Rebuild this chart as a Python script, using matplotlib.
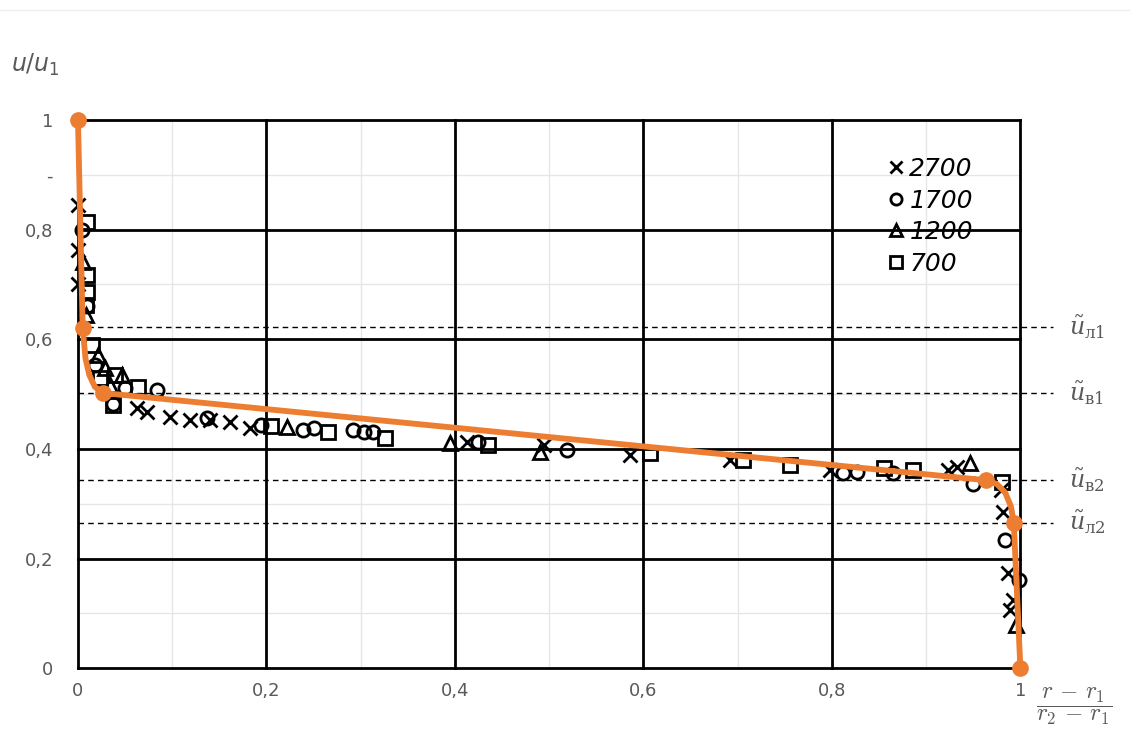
import matplotlib
matplotlib.use("Agg")
import matplotlib.pyplot as plt
from matplotlib.lines import Line2D

# measured points, one array per Reynolds number
x_2700 = [0.0, 0.0, 0.0, 0.063, 0.073, 0.098, 0.119, 0.140, 0.161, 0.183,
          0.413, 0.494, 0.586, 0.692, 0.798, 0.923, 0.933,
          0.979, 0.982, 0.987, 0.992, 0.989]
y_2700 = [0.845, 0.763, 0.700, 0.474, 0.467, 0.458, 0.453, 0.453, 0.449, 0.438,
          0.412, 0.407, 0.389, 0.380, 0.361, 0.361, 0.367,
          0.325, 0.285, 0.173, 0.124, 0.106]

x_1700 = [0.004, 0.010, 0.018, 0.050, 0.084, 0.037, 0.137, 0.194, 0.239, 0.250,
          0.292, 0.303, 0.313, 0.424, 0.519, 0.812, 0.827, 0.865, 0.950,
          0.984, 0.998]
y_1700 = [0.800, 0.660, 0.553, 0.511, 0.507, 0.482, 0.456, 0.443, 0.434, 0.438,
          0.434, 0.431, 0.431, 0.412, 0.398, 0.356, 0.358, 0.356, 0.336,
          0.234, 0.160]

x_1200 = [0.005, 0.008, 0.021, 0.029, 0.034, 0.047, 0.222, 0.395, 0.490, 0.947, 0.995]
y_1200 = [0.741, 0.644, 0.571, 0.547, 0.516, 0.535, 0.440, 0.411, 0.394, 0.374, 0.078]

x_700 = [0.010, 0.010, 0.010, 0.008, 0.015, 0.023, 0.039, 0.064, 0.037, 0.205,
         0.265, 0.326, 0.435, 0.607, 0.706, 0.756, 0.855, 0.886, 0.980]
y_700 = [0.814, 0.717, 0.686, 0.662, 0.589, 0.529, 0.535, 0.513, 0.480, 0.442,
         0.431, 0.420, 0.407, 0.392, 0.380, 0.371, 0.365, 0.361, 0.340]

# approximating curve (orange)
x_fit = [0.0, 0.005, 0.008, 0.012, 0.018, 0.027, 0.963, 0.975, 0.984, 0.990, 0.993, 1.0]
y_fit = [1.0, 0.620, 0.565, 0.535, 0.513, 0.502, 0.343, 0.336, 0.320, 0.295, 0.265, 0.0]
fit_dots = [0, 1, 5, 6, 10, 11]

# characteristic levels
levels = [0.622, 0.502, 0.343, 0.265]
level_labels = [r'$\tilde{u}_{\mathrm{л1}}$', r'$\tilde{u}_{\mathrm{в1}}$',
                r'$\tilde{u}_{\mathrm{в2}}$', r'$\tilde{u}_{\mathrm{л2}}$']

xticks = [0, 0.2, 0.4, 0.6, 0.8, 1.0]
xtick_labels = ['0', '0,2', '0,4', '0,6', '0,8', '1']
yticks = [0, 0.2, 0.4, 0.6, 0.8, 0.9, 1.0]
ytick_labels = ['0', '0,2', '0,4', '0,6', '0,8', '-', '1']

gray = '#595959'
orange = '#ED7D31'

fig = plt.figure(figsize=(11.3, 7.55), dpi=100)
ax = fig.add_axes([0.069, 0.115, 0.834, 0.726])
ax.set_xlim(0, 1)
ax.set_ylim(0, 1)

# light background grid every 0.1, heavy grid every 0.2
for v in [0.1, 0.3, 0.5, 0.7, 0.9]:
    ax.axvline(v, color='#e6e6e6', lw=1, zorder=0)
    ax.axhline(v, color='#e6e6e6', lw=1, zorder=0)
for v in xticks:
    ax.axvline(v, color='black', lw=2, zorder=1, clip_on=False)
    ax.axhline(v, color='black', lw=2, zorder=1, clip_on=False)
for s in ax.spines.values():
    s.set_visible(False)

mk = dict(linestyle='none', mfc='none', mec='black', mew=2, ms=9.5, zorder=3, clip_on=False)
h1, = ax.plot(x_2700, y_2700, marker='x', color='black', label='2700', **mk)
h2, = ax.plot(x_1700, y_1700, marker='o', label='1700', **mk)
h3, = ax.plot(x_1200, y_1200, marker='^', label='1200', **mk)
h4, = ax.plot(x_700, y_700, marker='s', label='700', **mk)

for lv, lab in zip(levels, level_labels):
    ax.plot([0, 1.035], [lv, lv], ls=(0, (4, 3)), color='black', lw=1, zorder=2, clip_on=False)
    ax.text(1.052, lv, lab, fontsize=17, color=gray, va='center', ha='left',
            math_fontfamily='dejavuserif', transform=ax.transData)

ax.plot(x_fit, y_fit, color=orange, lw=4.2, marker='o', ms=11, markevery=fit_dots,
        zorder=4, clip_on=False, solid_capstyle='round', solid_joinstyle='round')

leg = ax.legend(handles=[h1, h2, h3, h4], loc='upper left', bbox_to_anchor=(0.845, 0.955),
                frameon=False, prop=dict(style='italic', size=18), handlelength=0.7,
                handletextpad=0.2, labelspacing=0.3, borderpad=0, markerscale=0.85)

ax.set_xticks(xticks)
ax.set_xticklabels(xtick_labels)
ax.set_yticks(yticks)
ax.set_yticklabels(ytick_labels)
ax.tick_params(length=0, labelsize=13, labelcolor=gray)
ax.tick_params(axis='x', pad=10)
ax.tick_params(axis='y', pad=18)

fig.text(0.010, 0.905, r'$u/u_1$', fontsize=17, color=gray)
fig.text(0.951, 0.064, r'$\dfrac{r\,-\,r_1}{r_2\,-\,r_1}$', fontsize=17, color=gray,
         ha='center', va='center', math_fontfamily='cm')

fig.add_artist(Line2D([0, 1], [0.987, 0.987], color='#eeeeee', lw=1))

fig.savefig('out.png', dpi=100)
